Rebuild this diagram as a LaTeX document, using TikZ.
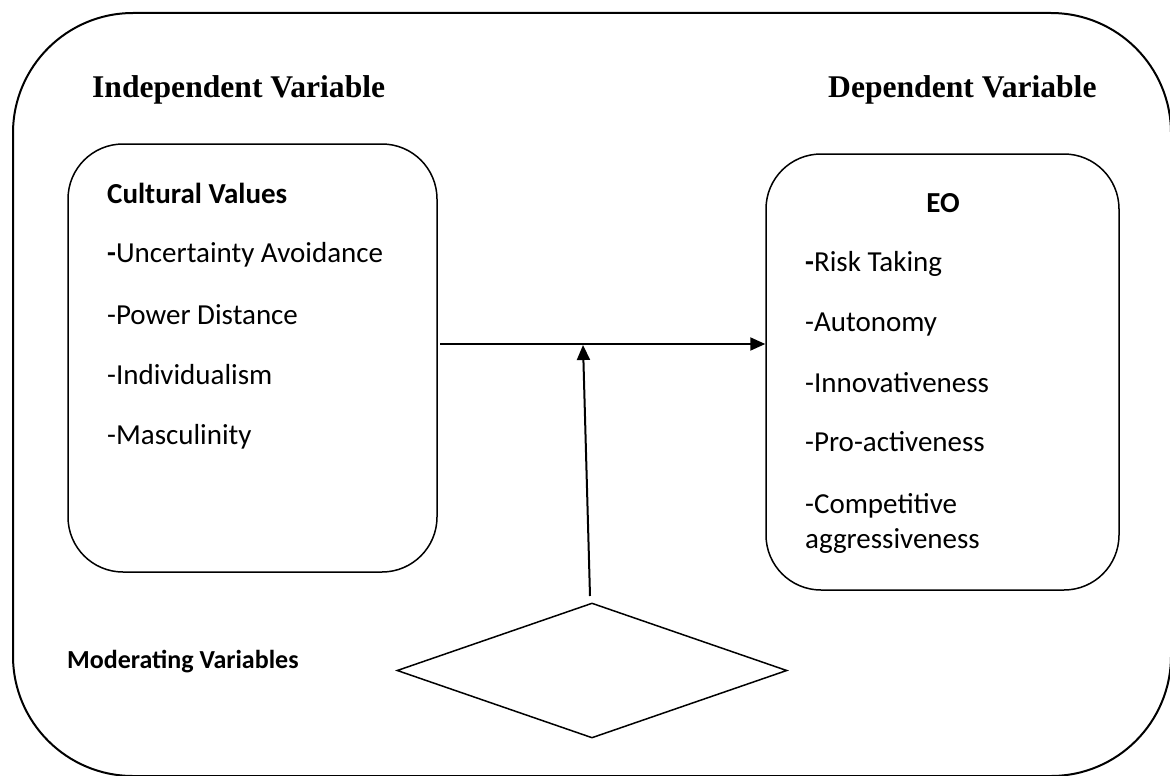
\documentclass[tikz,border=0pt]{standalone}
\usepackage{fontspec}
\usetikzlibrary{shapes.geometric,arrows.meta}
\newfontfamily\titlefont{Liberation Serif}
\newfontfamily\bodyfont{Carlito}
\begin{document}
\begin{tikzpicture}[x=1pt,y=-1pt,
  box/.style={draw, line width=1.5pt, rounded corners=55pt, inner sep=0pt},
  title/.style={anchor=base west, inner sep=0pt, font=\titlefont\bfseries\fontsize{31.6}{36}\selectfont},
  item/.style={anchor=base west, inner sep=0pt, font=\bodyfont\fontsize{29}{34}\selectfont},
  head/.style={anchor=base west, inner sep=0pt, font=\bodyfont\bfseries\fontsize{29}{34}\selectfont},
  arr/.style={line width=2pt, -{Triangle[length=15pt,width=13pt]}}
]
\useasboundingbox (0,0) rectangle (1170,776);
\node[draw, line width=2pt, rounded corners=120pt, minimum width=1158pt, minimum height=763pt, inner sep=0pt] (outer) at (592,394.5) {};
\node[title] (indep) at (92,97) {Independent Variable};
\node[title] (dep) at (828,97) {Dependent Variable};
\node[box, minimum width=369pt, minimum height=428pt] (L) at (252.5,358) {};
\node[box, minimum width=353pt, minimum height=436pt] (R) at (942.5,372) {};
\node[head] (cv) at (107,203) {Cultural Values};
\node[item] (l1) at (107,262) {{\bfseries -}Uncertainty Avoidance};
\node[item] (l2) at (107,324) {-Power Distance};
\node[item] (l3) at (107,384) {-Individualism};
\node[item] (l4) at (107,444) {-Masculinity};
\node[head, anchor=base] (eo) at (943,212) {EO};
\node[item] (r1) at (805,271) {{\bfseries -}Risk Taking};
\node[item] (r2) at (805,331) {-Autonomy};
\node[item] (r3) at (805,392) {-Innovativeness};
\node[item] (r4) at (805,451) {-Pro-activeness};
\node[item] (r5) at (805,513) {-Competitive};
\node[item] (r6) at (805,548) {aggressiveness};
\node[anchor=base west, inner sep=0pt, font=\bodyfont\bfseries\fontsize{26}{30}\selectfont] (mod) at (67,668) {Moderating Variables};
\node[draw, diamond, line width=1.5pt, minimum width=390pt, minimum height=135pt, inner sep=0pt] (D) at (592,670.5) {};
\coordinate (a0) at (440,344);
\coordinate (m) at (583,345);
\coordinate (d0) at (590,596);
\draw[arr] (a0) -- (a0 -| R.west);
\draw[arr] (d0) -- (m);
\end{tikzpicture}
\end{document}
